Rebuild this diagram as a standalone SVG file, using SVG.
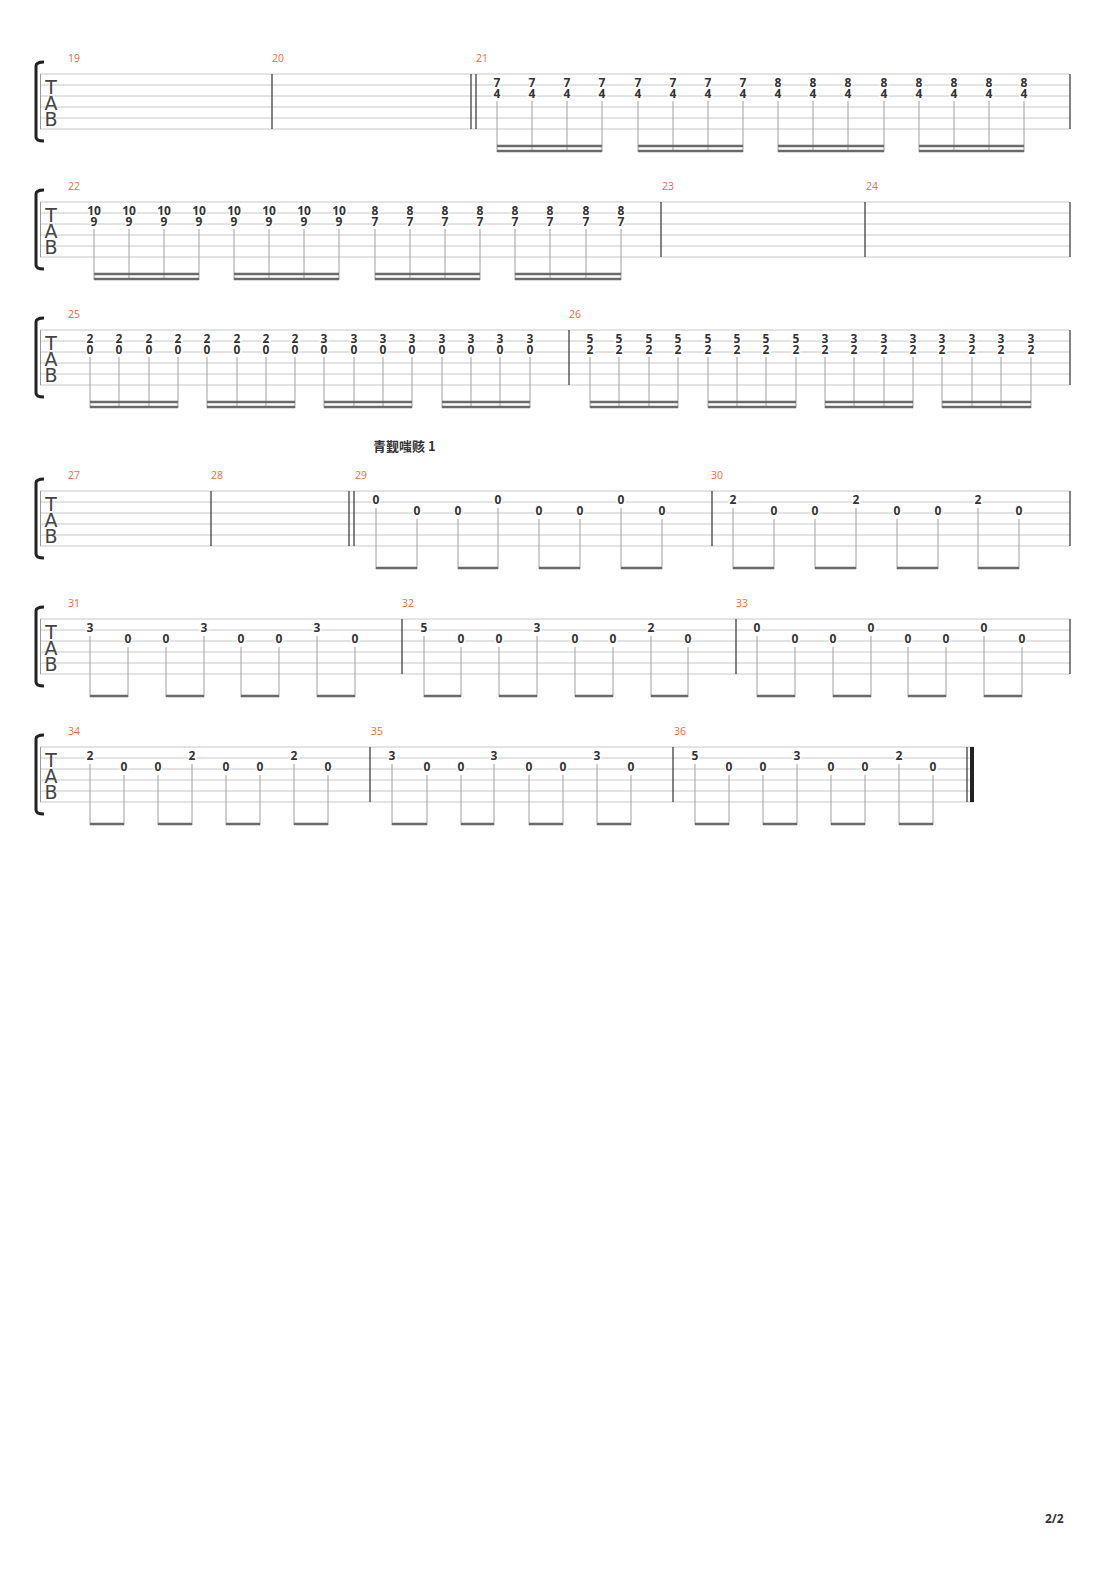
<svg xmlns="http://www.w3.org/2000/svg" width="1110" height="1570" viewBox="0 0 1110 1570">
<style>
.st{stroke:#c8c8c8;stroke-width:1}
.bar{stroke:#333;stroke-width:1.2}
.sm{stroke:#a0a0a0;stroke-width:1}
.bm{stroke:#6a6a6a;stroke-width:2.5}
.n{font-family:"Open Sans","DejaVu Sans",sans-serif;font-size:12px;font-weight:bold;fill:#333;text-anchor:middle;stroke:#fff;stroke-width:3;paint-order:stroke}
.m{font-family:"Open Sans","DejaVu Sans",sans-serif;font-size:10.5px;fill:#f06a3a}
.tab{font-family:"DejaVu Sans",sans-serif;font-size:19px;fill:#444;text-anchor:middle}
.br{fill:none;stroke:#222;stroke-width:3}
</style>
<defs>
<g id="staff"><path class="st" d="M40 0H1070M40 11H1070M40 22H1070M40 33H1070M40 44H1070M40 55H1070"/><path stroke="#999" d="M40.5 0V55"/><text class="tab" x="51" y="20">T</text><text class="tab" x="51" y="36">A</text><text class="tab" x="51" y="52">B</text><path class="br" d="M44 -12 Q36 -12 36 -8 V63 Q36 67 44 67"/></g>
</defs>
<g id="sys1">
<use href="#staff" y="74"/>
<text class="m" x="68" y="62">19</text><text class="m" x="272" y="62">20</text><text class="m" x="476" y="62">21</text>
<path class="bar" d="M272 74V129M471 74V129M476 74V129M1070 74V129"/>
<g id="n21">
<path class="sm" d="M497 101V152M532 101V152M567 101V152M602 101V152M638 101V152M673 101V152M708 101V152M743 101V152M778 101V152M813 101V152M848 101V152M884 101V152M919 101V152M954 101V152M989 101V152M1024 101V152"/>
<path class="bm" d="M497 146H602M497 151H602M638 146H743M638 151H743M778 146H884M778 151H884M919 146H1024M919 151H1024"/>
<text class="n" x="497" y="87">7</text><text class="n" x="497" y="98">4</text><text class="n" x="532" y="87">7</text><text class="n" x="532" y="98">4</text><text class="n" x="567" y="87">7</text><text class="n" x="567" y="98">4</text><text class="n" x="602" y="87">7</text><text class="n" x="602" y="98">4</text>
<text class="n" x="638" y="87">7</text><text class="n" x="638" y="98">4</text><text class="n" x="673" y="87">7</text><text class="n" x="673" y="98">4</text><text class="n" x="708" y="87">7</text><text class="n" x="708" y="98">4</text><text class="n" x="743" y="87">7</text><text class="n" x="743" y="98">4</text>
<text class="n" x="778" y="87">8</text><text class="n" x="778" y="98">4</text><text class="n" x="813" y="87">8</text><text class="n" x="813" y="98">4</text><text class="n" x="848" y="87">8</text><text class="n" x="848" y="98">4</text><text class="n" x="884" y="87">8</text><text class="n" x="884" y="98">4</text>
<text class="n" x="919" y="87">8</text><text class="n" x="919" y="98">4</text><text class="n" x="954" y="87">8</text><text class="n" x="954" y="98">4</text><text class="n" x="989" y="87">8</text><text class="n" x="989" y="98">4</text><text class="n" x="1024" y="87">8</text><text class="n" x="1024" y="98">4</text>
</g>
</g>
<g id="sys2">
<use href="#staff" y="202"/>
<text class="m" x="68" y="190">22</text><text class="m" x="662" y="190">23</text><text class="m" x="866" y="190">24</text>
<path class="bar" d="M661 202V257M865 202V257M1070 202V257"/>
<path class="sm" d="M94 229V280M129 229V280M164 229V280M199 229V280M234 229V280M269 229V280M304 229V280M339 229V280M375 229V280M410 229V280M445 229V280M480 229V280M515 229V280M550 229V280M586 229V280M621 229V280"/>
<path class="bm" d="M94 274H199M94 279H199M234 274H339M234 279H339M375 274H480M375 279H480M515 274H621M515 279H621"/>
<text class="n" x="94" y="215">10</text><text class="n" x="94" y="226">9</text><text class="n" x="129" y="215">10</text><text class="n" x="129" y="226">9</text><text class="n" x="164" y="215">10</text><text class="n" x="164" y="226">9</text><text class="n" x="199" y="215">10</text><text class="n" x="199" y="226">9</text>
<text class="n" x="234" y="215">10</text><text class="n" x="234" y="226">9</text><text class="n" x="269" y="215">10</text><text class="n" x="269" y="226">9</text><text class="n" x="304" y="215">10</text><text class="n" x="304" y="226">9</text><text class="n" x="339" y="215">10</text><text class="n" x="339" y="226">9</text>
<text class="n" x="375" y="215">8</text><text class="n" x="375" y="226">7</text><text class="n" x="410" y="215">8</text><text class="n" x="410" y="226">7</text><text class="n" x="445" y="215">8</text><text class="n" x="445" y="226">7</text><text class="n" x="480" y="215">8</text><text class="n" x="480" y="226">7</text>
<text class="n" x="515" y="215">8</text><text class="n" x="515" y="226">7</text><text class="n" x="550" y="215">8</text><text class="n" x="550" y="226">7</text><text class="n" x="586" y="215">8</text><text class="n" x="586" y="226">7</text><text class="n" x="621" y="215">8</text><text class="n" x="621" y="226">7</text>
</g>
<g id="sys3">
<use href="#staff" y="330"/>
<text class="m" x="68" y="318">25</text><text class="m" x="569" y="318">26</text>
<path class="bar" d="M569 330V385M1070 330V385"/>
<path class="sm" d="M90 357V408M119 357V408M149 357V408M178 357V408M207 357V408M237 357V408M266 357V408M295 357V408M324 357V408M354 357V408M383 357V408M412 357V408M442 357V408M471 357V408M500 357V408M530 357V408M590 357V408M619 357V408M649 357V408M678 357V408M708 357V408M737 357V408M766 357V408M796 357V408M825 357V408M854 357V408M884 357V408M913 357V408M942 357V408M972 357V408M1001 357V408M1031 357V408"/>
<path class="bm" d="M90 402H178M90 407H178M207 402H295M207 407H295M324 402H412M324 407H412M442 402H530M442 407H530M590 402H678M590 407H678M708 402H796M708 407H796M825 402H913M825 407H913M942 402H1031M942 407H1031"/>
<text class="n" x="90" y="343">2</text><text class="n" x="90" y="354">0</text><text class="n" x="119" y="343">2</text><text class="n" x="119" y="354">0</text><text class="n" x="149" y="343">2</text><text class="n" x="149" y="354">0</text><text class="n" x="178" y="343">2</text><text class="n" x="178" y="354">0</text>
<text class="n" x="207" y="343">2</text><text class="n" x="207" y="354">0</text><text class="n" x="237" y="343">2</text><text class="n" x="237" y="354">0</text><text class="n" x="266" y="343">2</text><text class="n" x="266" y="354">0</text><text class="n" x="295" y="343">2</text><text class="n" x="295" y="354">0</text>
<text class="n" x="324" y="343">3</text><text class="n" x="324" y="354">0</text><text class="n" x="354" y="343">3</text><text class="n" x="354" y="354">0</text><text class="n" x="383" y="343">3</text><text class="n" x="383" y="354">0</text><text class="n" x="412" y="343">3</text><text class="n" x="412" y="354">0</text>
<text class="n" x="442" y="343">3</text><text class="n" x="442" y="354">0</text><text class="n" x="471" y="343">3</text><text class="n" x="471" y="354">0</text><text class="n" x="500" y="343">3</text><text class="n" x="500" y="354">0</text><text class="n" x="530" y="343">3</text><text class="n" x="530" y="354">0</text>
<text class="n" x="590" y="343">5</text><text class="n" x="590" y="354">2</text><text class="n" x="619" y="343">5</text><text class="n" x="619" y="354">2</text><text class="n" x="649" y="343">5</text><text class="n" x="649" y="354">2</text><text class="n" x="678" y="343">5</text><text class="n" x="678" y="354">2</text>
<text class="n" x="708" y="343">5</text><text class="n" x="708" y="354">2</text><text class="n" x="737" y="343">5</text><text class="n" x="737" y="354">2</text><text class="n" x="766" y="343">5</text><text class="n" x="766" y="354">2</text><text class="n" x="796" y="343">5</text><text class="n" x="796" y="354">2</text>
<text class="n" x="825" y="343">3</text><text class="n" x="825" y="354">2</text><text class="n" x="854" y="343">3</text><text class="n" x="854" y="354">2</text><text class="n" x="884" y="343">3</text><text class="n" x="884" y="354">2</text><text class="n" x="913" y="343">3</text><text class="n" x="913" y="354">2</text>
<text class="n" x="942" y="343">3</text><text class="n" x="942" y="354">2</text><text class="n" x="972" y="343">3</text><text class="n" x="972" y="354">2</text><text class="n" x="1001" y="343">3</text><text class="n" x="1001" y="354">2</text><text class="n" x="1031" y="343">3</text><text class="n" x="1031" y="354">2</text>
</g>
<g id="sys4">
<text x="373" y="451" style="font-family:'Noto Sans CJK SC','Open Sans',sans-serif;font-size:13px;font-weight:bold;fill:#333">青觐嗤赅 1</text>
<use href="#staff" y="491"/>
<text class="m" x="68" y="479">27</text><text class="m" x="211" y="479">28</text><text class="m" x="355" y="479">29</text><text class="m" x="711" y="479">30</text>
<path class="bar" d="M211 491V546M349 491V546M354 491V546M712 491V546M1070 491V546"/>
<path class="sm" d="M376 508V569M417 519V569M458 519V569M498 508V569M539 519V569M580 519V569M621 508V569M662 519V569M733 508V569M774 519V569M815 519V569M856 508V569M897 519V569M938 519V569M978 508V569M1019 519V569"/>
<path class="bm" d="M376 568H417M458 568H498M539 568H580M621 568H662M733 568H774M815 568H856M897 568H938M978 568H1019"/>
<text class="n" x="376" y="504">0</text><text class="n" x="417" y="515">0</text><text class="n" x="458" y="515">0</text><text class="n" x="498" y="504">0</text><text class="n" x="539" y="515">0</text><text class="n" x="580" y="515">0</text><text class="n" x="621" y="504">0</text><text class="n" x="662" y="515">0</text>
<text class="n" x="733" y="504">2</text><text class="n" x="774" y="515">0</text><text class="n" x="815" y="515">0</text><text class="n" x="856" y="504">2</text><text class="n" x="897" y="515">0</text><text class="n" x="938" y="515">0</text><text class="n" x="978" y="504">2</text><text class="n" x="1019" y="515">0</text>
</g>
<g id="sys5">
<use href="#staff" y="619"/>
<text class="m" x="68" y="607">31</text><text class="m" x="402" y="607">32</text><text class="m" x="736" y="607">33</text>
<path class="bar" d="M402 619V674M736 619V674M1070 619V674"/>
<path class="sm" d="M90 636V697M128 647V697M166 647V697M204 636V697M241 647V697M279 647V697M317 636V697M355 647V697M424 636V697M461 647V697M499 647V697M537 636V697M575 647V697M613 647V697M651 636V697M688 647V697M757 636V697M795 647V697M833 647V697M871 636V697M908 647V697M946 647V697M984 636V697M1022 647V697"/>
<path class="bm" d="M90 696H128M166 696H204M241 696H279M317 696H355M424 696H461M499 696H537M575 696H613M651 696H688M757 696H795M833 696H871M908 696H946M984 696H1022"/>
<text class="n" x="90" y="632">3</text><text class="n" x="128" y="643">0</text><text class="n" x="166" y="643">0</text><text class="n" x="204" y="632">3</text><text class="n" x="241" y="643">0</text><text class="n" x="279" y="643">0</text><text class="n" x="317" y="632">3</text><text class="n" x="355" y="643">0</text>
<text class="n" x="424" y="632">5</text><text class="n" x="461" y="643">0</text><text class="n" x="499" y="643">0</text><text class="n" x="537" y="632">3</text><text class="n" x="575" y="643">0</text><text class="n" x="613" y="643">0</text><text class="n" x="651" y="632">2</text><text class="n" x="688" y="643">0</text>
<text class="n" x="757" y="632">0</text><text class="n" x="795" y="643">0</text><text class="n" x="833" y="643">0</text><text class="n" x="871" y="632">0</text><text class="n" x="908" y="643">0</text><text class="n" x="946" y="643">0</text><text class="n" x="984" y="632">0</text><text class="n" x="1022" y="643">0</text>
</g>
<g id="sys6">
<g><path class="st" d="M40 747H974M40 758H974M40 769H974M40 780H974M40 791H974M40 802H974"/><path stroke="#999" d="M40.5 747V802"/><text class="tab" x="51" y="767">T</text><text class="tab" x="51" y="783">A</text><text class="tab" x="51" y="799">B</text><path class="br" d="M44 735 Q36 735 36 739 V810 Q36 814 44 814"/></g>
<text class="m" x="68" y="735">34</text><text class="m" x="371" y="735">35</text><text class="m" x="674" y="735">36</text>
<path class="bar" d="M370 747V802M673 747V802M967 747V802"/>
<rect x="970" y="747" width="4" height="55" fill="#222"/>
<path class="sm" d="M90 764V825M124 775V825M158 775V825M192 764V825M226 775V825M260 775V825M294 764V825M328 775V825M392 764V825M427 775V825M461 775V825M494 764V825M529 775V825M563 775V825M597 764V825M631 775V825M695 764V825M729 775V825M763 775V825M797 764V825M831 775V825M865 775V825M899 764V825M933 775V825"/>
<path class="bm" d="M90 824H124M158 824H192M226 824H260M294 824H328M392 824H427M461 824H494M529 824H563M597 824H631M695 824H729M763 824H797M831 824H865M899 824H933"/>
<text class="n" x="90" y="760">2</text><text class="n" x="124" y="771">0</text><text class="n" x="158" y="771">0</text><text class="n" x="192" y="760">2</text><text class="n" x="226" y="771">0</text><text class="n" x="260" y="771">0</text><text class="n" x="294" y="760">2</text><text class="n" x="328" y="771">0</text>
<text class="n" x="392" y="760">3</text><text class="n" x="427" y="771">0</text><text class="n" x="461" y="771">0</text><text class="n" x="494" y="760">3</text><text class="n" x="529" y="771">0</text><text class="n" x="563" y="771">0</text><text class="n" x="597" y="760">3</text><text class="n" x="631" y="771">0</text>
<text class="n" x="695" y="760">5</text><text class="n" x="729" y="771">0</text><text class="n" x="763" y="771">0</text><text class="n" x="797" y="760">3</text><text class="n" x="831" y="771">0</text><text class="n" x="865" y="771">0</text><text class="n" x="899" y="760">2</text><text class="n" x="933" y="771">0</text>
</g>
<text x="1045" y="1523" style="font-family:'Open Sans',sans-serif;font-size:12px;font-weight:bold;fill:#333">2/2</text>
</svg>
